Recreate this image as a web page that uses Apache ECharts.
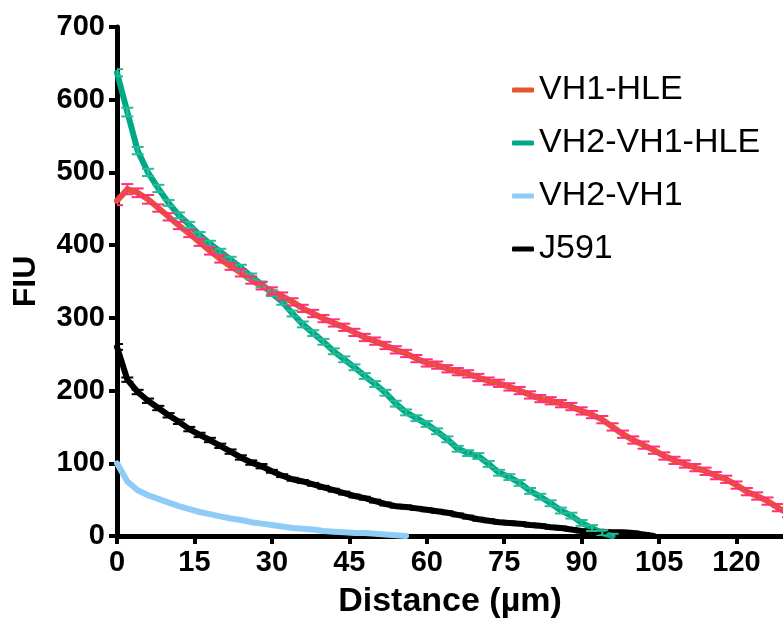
<!DOCTYPE html>
<html><head><meta charset="utf-8">
<script src="https://cdn.jsdelivr.net/npm/echarts@6/dist/echarts.min.js"></script>
<style>html,body{margin:0;padding:0;background:#fff}#chart{width:783px;height:622px}</style>
</head><body><div id="chart"></div>
<script>
// Distance (µm) sample positions
const distance = [0,2,4,6,8,10,12,14,16,18,20,22,24,26,28,30,32,34,36,38,40,42,44,46,48,50,52,54,56,58,60,62,64,66,68,70,72,74,76,78,80,82,84,86,88,90,92,94,96,98,100,102,104,106,108,110,112,114,116,118,120,122,124,126,128,130];
const seriesNames = ['VH1-HLE','VH2-VH1-HLE','VH2-VH1','J591'];
const xTicks = [0,15,30,45,60,75,90,105,120];
const yTicks = [0,100,200,300,400,500,600,700];

// FIU values
const vh1Hle = [461,477,472,463,451,439,427,416,404,392,381,371,362,352,344,337,330,322,313,306,299,293,287,280,273,268,262,256,251,244,238,235,230,226,223,218,213,210,205,200,194,189,186,182,178,172,167,160,150,140,132,125,118,110,104,99,94,89,83,78,70,61,55,48,39,31];
const vh1HleErr = [6,7,6,6,5,5,5,5,5,5,5,5,5,5,5,5,5,5,5,5,5,5,5,5,5,5,5,5,5,5,5,5,5,5,5,5,5,5,5,5,5,5,5,5,5,5,5,5,5,5,5,5,5,5,5,5,5,5,5,5,5,5,5,5,5,5];
const vh2Vh1Hle = [637,583,530,500,478,458,441,428,414,402,391,380,369,357,346,334,322,306,291,279,267,254,243,232,220,209,197,182,170,162,154,144,133,120,114,110,99,87,81,73,62,54,45,35,28,18,11,4,0];
const vh2Vh1HleErr = [5,6,5,5,5,4,4,4,4,4,4,4,4,4,4,4,4,4,4,4,4,4,4,4,4,4,4,4,4,4,4,4,4,4,4,4,4,4,4,4,4,4,4,4,4,4,4,4,3];
const vh2Vh1 = [100,75,63,56,51,46,41,37,33,30,27,24,22,19,17,15,13,11,10,9,7,6,5,4,4,3,2,1,0];
const j591 = [260,215,198,186,176,166,157,147,139,132,124,116,108,101,96,89,83,78,75,71,67,63,59,55,52,48,44,41,40,38,36,34,32,29,26,23,21,19,18,17,15,14,12,11,9,7,6,6,5,5,4,2,0];
const j591Err = [4,3,3,3,3,3,3,3,3,3,3,3,3,3,3,2,2,2,2,2,2,2,2,2,2,2,2,2,2,2,2,2,2,2,2,2,2,2,2,2,2,2,2,2,2,2,2,2,2,2,2,2,1];

const FONT = "'Liberation Sans', Arial, Helvetica, sans-serif";

function pts(vals){ return vals.map((v,i)=>[distance[i], v]); }
function errPts(vals, errs){ return vals.map((v,i)=>[distance[i], v, errs[i]]); }
function errRender(color){
  return function(params, api){
    const x = api.value(0), y = api.value(1), e = api.value(2);
    const hi = api.coord([x, y + e]);
    const lo = api.coord([x, y - e]);
    const w = 6;
    const st = {stroke: color, lineWidth: 2};
    return {type:'group', children:[
      {type:'line', shape:{x1:hi[0], y1:hi[1], x2:lo[0], y2:lo[1]}, style:st},
      {type:'line', shape:{x1:hi[0]-w, y1:hi[1], x2:hi[0]+w, y2:hi[1]}, style:st},
      {type:'line', shape:{x1:lo[0]-w, y1:lo[1], x2:lo[0]+w, y2:lo[1]}, style:st}
    ]};
  };
}
function lineSeries(name, vals, color){
  return {name, type:'line', data: pts(vals), showSymbol:false, symbol:'none',
    lineStyle:{color, width:6, cap:'round', join:'round'}, itemStyle:{color}, clip:true, z:2};
}
function errSeries(name, vals, errs, color){
  return {name, type:'custom', data: errPts(vals, errs), renderItem: errRender(color),
    encode:{x:0, y:1}, clip:true, silent:true, z:3};
}

const axisCommon = {
  axisLine:{show:true, onZero:false, lineStyle:{color:'#000', width:5}},
  axisTick:{show:true, inside:false, length:8, lineStyle:{color:'#000', width:4}},
  splitLine:{show:false}
};

const chart = echarts.init(document.getElementById('chart'), null, {renderer:'canvas'});
chart.setOption({
  animation:false,
  backgroundColor:'#fff',
  grid:{left:117, right:0, top:27, bottom:86, containLabel:false, outerBoundsMode:'none'},
  legend:{
    orient:'vertical', left:507, top:68, itemWidth:22, itemHeight:5, itemGap:19,
    icon:'roundRect', data: seriesNames,
    textStyle:{fontFamily:FONT, fontSize:34, color:'#000'}
  },
  xAxis:Object.assign({
    type:'value', min:xTicks[0], max:129, interval:xTicks[1]-xTicks[0],
    name:'Distance (µm)', nameLocation:'middle', nameGap:49,
    nameTextStyle:{fontFamily:FONT, fontWeight:'bold', fontSize:34, color:'#000'},
    axisLabel:{showMaxLabel:false, margin:12, fontFamily:FONT, fontWeight:'bold', fontSize:29, color:'#000'}
  }, axisCommon),
  yAxis:Object.assign({
    type:'value', min:yTicks[0], max:yTicks[yTicks.length-1], interval:yTicks[1]-yTicks[0],
    name:'FIU', nameLocation:'middle', nameGap:75,
    nameTextStyle:{fontFamily:FONT, fontWeight:'bold', fontSize:32, color:'#000'},
    axisLabel:{margin:12, fontFamily:FONT, fontWeight:'bold', fontSize:29, color:'#000'}
  }, axisCommon),
  series:[
    lineSeries('VH2-VH1', vh2Vh1, '#8ECBF6'),
    lineSeries('J591', j591, '#000000'),
    errSeries('J591 SEM', j591, j591Err, '#000000'),
    lineSeries('VH2-VH1-HLE', vh2Vh1Hle, '#00A886'),
    errSeries('VH2-VH1-HLE SEM', vh2Vh1Hle, vh2Vh1HleErr, '#27BC98'),
    lineSeries('VH1-HLE', vh1Hle, '#E4572E'),
    errSeries('VH1-HLE SEM', vh1Hle, vh1HleErr, '#FF2F7D')
  ]
});
</script>
</body></html>
